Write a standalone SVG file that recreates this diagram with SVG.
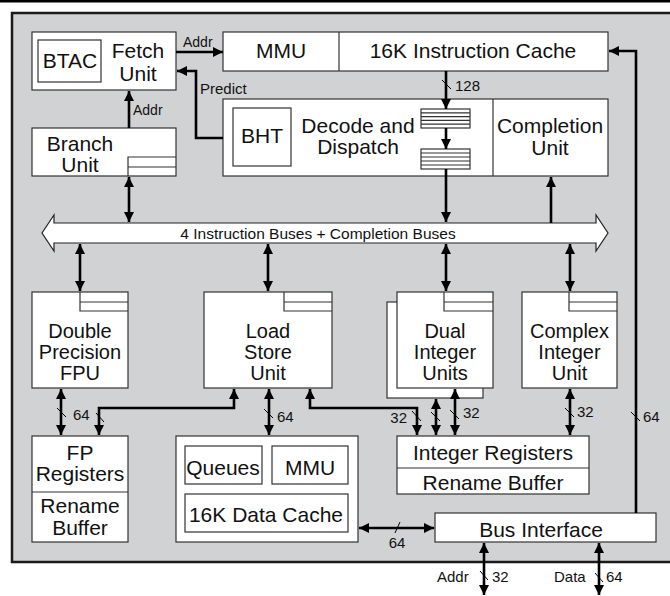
<svg xmlns="http://www.w3.org/2000/svg" width="670" height="596" viewBox="0 0 670 596">
<defs>
<style>
.box{fill:#fff;stroke:#333;stroke-width:1.2}
.ln{fill:none;stroke:#333;stroke-width:1.2}
.t{font-family:"Liberation Sans",Arial,sans-serif;font-size:21px;fill:#111;text-anchor:middle}
.t3{font-size:20px}
.s{font-family:"Liberation Sans",Arial,sans-serif;font-size:15px;fill:#111}
.c{fill:none;stroke:#000;stroke-width:2.6}
.sl{stroke:#000;stroke-width:1}
</style>
<marker id="ah" viewBox="0 0 10 10" refX="10" refY="5" markerWidth="10" markerHeight="10" markerUnits="userSpaceOnUse" orient="auto-start-reverse"><path d="M0,0L10,5L0,10z" fill="#000"/></marker>
</defs>
<rect x="0" y="0" width="670" height="2.5" fill="#000"/>
<rect id="panel" x="12" y="13" width="670" height="549" fill="#d1d2d4" stroke="#1a1a1a" stroke-width="2.5"/>

<g id="fetch">
<rect class="box" x="32" y="32" width="144" height="58"/>
<rect class="box" x="38" y="40" width="63" height="42"/>
<text class="t" x="70" y="68">BTAC</text>
<text class="t" x="138" y="58">Fetch</text>
<text class="t" x="138" y="81">Unit</text>
</g>
<g id="branch">
<rect class="box" x="32" y="128" width="144" height="48"/>
<path class="ln" d="M128,176V157H176M128,167H176"/>
<text class="t" x="80" y="151">Branch</text>
<text class="t" x="80" y="172">Unit</text>
</g>
<g id="mmu-icache">
<rect class="box" x="223" y="32" width="385" height="39"/>
<path class="ln" d="M339,32V71"/>
<text class="t" x="281" y="58">MMU</text>
<text class="t" x="473" y="58">16K Instruction Cache</text>
</g>
<g id="decode">
<rect class="box" x="223" y="99" width="385" height="77"/>
<path class="ln" d="M493,99V176"/>
<rect class="box" x="233" y="108" width="58" height="58"/>
<text class="t" x="262" y="143">BHT</text>
<text class="t" x="358" y="133">Decode and</text>
<text class="t" x="358" y="154">Dispatch</text>
<rect class="box" x="421" y="109" width="49" height="19"/>
<path class="ln" d="M421,112.8H470M421,116.6H470M421,120.4H470M421,124.2H470"/>
<rect class="box" x="421" y="149" width="49" height="20"/>
<path class="ln" d="M421,153H470M421,157H470M421,161H470M421,165H470"/>
</g>
<g id="completion">
<text class="t" x="550" y="133">Completion</text>
<text class="t" x="550" y="155">Unit</text>
</g>
<g id="bus">
<polygon points="42,233 54,215 54,223 596,223 596,215 608,233 596,251 596,243 54,243 54,251" fill="#fff" stroke="#222" stroke-width="1.2"/>
<text class="s" x="318" y="239" text-anchor="middle" style="font-size:15.5px">4 Instruction Buses + Completion Buses</text>
</g>
<g id="fpu">
<rect class="box" x="32" y="292" width="96" height="96"/>
<path class="ln" d="M80,292V311H128M80,302H128"/>
<text class="t t3" x="80" y="338">Double</text>
<text class="t t3" x="80" y="359">Precision</text>
<text class="t t3" x="80" y="380">FPU</text>
</g>
<g id="lsu">
<rect class="box" x="204" y="292" width="128" height="96"/>
<path class="ln" d="M284,292V311H332M284,302H332"/>
<text class="t t3" x="268" y="338">Load</text>
<text class="t t3" x="268" y="359">Store</text>
<text class="t t3" x="268" y="380">Unit</text>
</g>
<g id="dual">
<rect class="box" x="387" y="302" width="96" height="96"/>
<rect class="box" x="397" y="292" width="96" height="96"/>
<path class="ln" d="M444,292V311H493M444,302H493"/>
<text class="t t3" x="445" y="338">Dual</text>
<text class="t t3" x="445" y="359">Integer</text>
<text class="t t3" x="445" y="380">Units</text>
</g>
<g id="complex">
<rect class="box" x="522" y="292" width="95" height="96"/>
<path class="ln" d="M569,292V311H617M569,302H617"/>
<text class="t t3" x="569.5" y="338">Complex</text>
<text class="t t3" x="569.5" y="359">Integer</text>
<text class="t t3" x="569.5" y="380">Unit</text>
</g>
<g id="fpregs">
<rect class="box" x="32" y="436" width="96" height="106"/>
<path class="ln" d="M32,492H128"/>
<text class="t" x="80" y="460">FP</text>
<text class="t" x="80" y="481">Registers</text>
<text class="t" x="80" y="513">Rename</text>
<text class="t" x="80" y="535">Buffer</text>
</g>
<g id="dcache">
<rect class="box" x="176" y="436" width="182" height="106"/>
<rect class="box" x="185" y="446" width="77" height="38"/>
<rect class="box" x="272" y="446" width="76" height="38"/>
<rect class="box" x="185" y="494" width="163" height="38"/>
<text class="t" x="223" y="475">Queues</text>
<text class="t" x="310" y="475">MMU</text>
<text class="t" x="266" y="522">16K Data Cache</text>
</g>
<g id="intregs">
<rect class="box" x="397" y="436" width="192" height="58"/>
<path class="ln" d="M397,468H589"/>
<text class="t" x="493" y="460">Integer Registers</text>
<text class="t" x="493" y="490">Rename Buffer</text>
</g>
<g id="busif">
<rect class="box" x="435" y="513" width="221" height="29"/>
<text class="t" x="541" y="537">Bus Interface</text>
</g>

<g id="connectors">
<path class="c" d="M176,52H223" marker-end="url(#ah)"/>
<path class="c" d="M223,138H196V71H177" marker-end="url(#ah)"/>
<path class="c" d="M129,128V91" marker-end="url(#ah)"/>
<path class="c" d="M129,177V222" marker-start="url(#ah)" marker-end="url(#ah)"/>
<path class="c" d="M446,71V109" marker-end="url(#ah)"/>
<path class="c" d="M446,128V149" marker-end="url(#ah)"/>
<path class="c" d="M446,169V222" marker-end="url(#ah)"/>
<path class="c" d="M551,223V177" marker-end="url(#ah)"/>
<path class="c" d="M80,244V291" marker-start="url(#ah)" marker-end="url(#ah)"/>
<path class="c" d="M268,244V291" marker-start="url(#ah)" marker-end="url(#ah)"/>
<path class="c" d="M446,244V291" marker-start="url(#ah)" marker-end="url(#ah)"/>
<path class="c" d="M570,244V291" marker-start="url(#ah)" marker-end="url(#ah)"/>
<path class="c" d="M61,389V435" marker-start="url(#ah)" marker-end="url(#ah)"/>
<path class="c" d="M234,389V408H99V435" marker-start="url(#ah)" marker-end="url(#ah)"/>
<path class="c" d="M269,389V435" marker-start="url(#ah)" marker-end="url(#ah)"/>
<path class="c" d="M310,389V408H417V435" marker-start="url(#ah)" marker-end="url(#ah)"/>
<path class="c" d="M436,399V435" marker-start="url(#ah)" marker-end="url(#ah)"/>
<path class="c" d="M455,389V435" marker-start="url(#ah)" marker-end="url(#ah)"/>
<path class="c" d="M570,389V435" marker-start="url(#ah)" marker-end="url(#ah)"/>
<path class="c" d="M359,528H434" marker-start="url(#ah)" marker-end="url(#ah)"/>
<path class="c" d="M636,513V51H609" marker-end="url(#ah)"/>
<path class="c" d="M484,543V595" marker-start="url(#ah)" marker-end="url(#ah)"/>
<path class="c" d="M599,543V595" marker-start="url(#ah)" marker-end="url(#ah)"/>
<path class="sl" d="M442,80L451,89M57,408L66,417M96,413L104,422M264,409L273,418M412,411L421,421M431,412L440,421M450,410L459,419M565,408L574,417M631,412L640,421M395,533L400,522M480,571L488,580M595,573L603,582"/>
<text class="s" x="183" y="47" style="font-size:14px">Addr</text>
<text class="s" x="133" y="115" style="font-size:14px">Addr</text>
<text class="s" x="200" y="94">Predict</text>
<text class="s" x="455" y="91">128</text>
<text class="s" x="73" y="420">64</text>
<text class="s" x="277" y="422">64</text>
<text class="s" x="407" y="423" text-anchor="end">32</text>
<text class="s" x="463" y="418">32</text>
<text class="s" x="577" y="417">32</text>
<text class="s" x="643" y="422">64</text>
<text class="s" x="397" y="548" text-anchor="middle">64</text>
<text class="s" x="437" y="582">Addr</text>
<text class="s" x="492" y="582">32</text>
<text class="s" x="554" y="582">Data</text>
<text class="s" x="606" y="582">64</text>
</g>
</svg>
